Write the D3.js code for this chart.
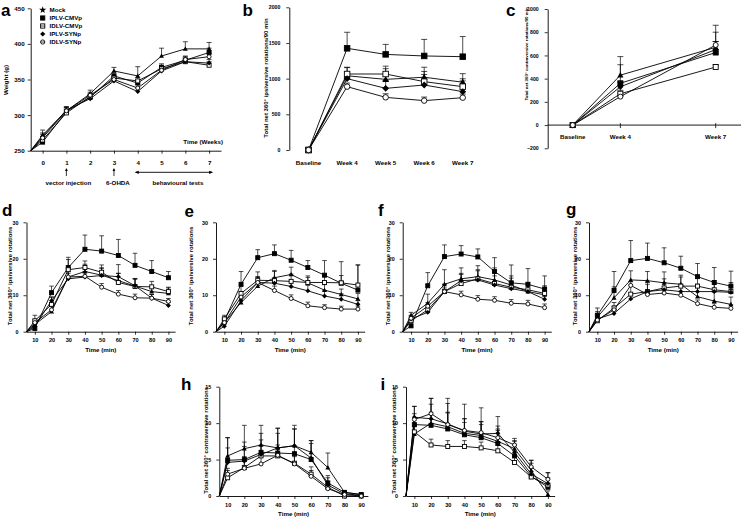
<!DOCTYPE html>
<html><head><meta charset="utf-8">
<script src="https://cdn.jsdelivr.net/npm/d3@7"></script>
<style>
body{margin:0;background:#fff}
svg{display:block}
text{font-family:"Liberation Sans",Arial,sans-serif;font-weight:bold;fill:#000}
</style>
</head><body><svg id="fig" width="741" height="519"></svg>
<script>
// ---------- shared ----------
const seriesNames = ["Mock", "IPLV-CMVp", "IDLV-CMVp", "IPLV-SYNp", "IDLV-SYNp"];
const seriesSymbols = ["tri", "fsq", "osq", "fdia", "ocir"];
const weeks = [0, 1, 2, 3, 4, 5, 6, 7];
const weekTicks = [0, 1, 2, 3, 4, 5, 6, 7];
const weightTicks = [250, 300, 350, 400, 450];
const bCats = ["Baseline", "Week 4", "Week 5", "Week 6", "Week 7"];
const bTicks = [0, 500, 1000, 1500, 2000];
const cCats = ["Baseline", "Week 4", "Week 7"];
const cPos = [0, 1, 3];
const cTicks = [-200, 0, 200, 400, 600, 800, 1000];
const minutes = [10, 20, 30, 40, 50, 60, 70, 80, 90];
const ipsiTicks = [0, 10, 20, 30];
const contraTicks = [0, 5, 10, 15];

// ---------- panel a: body weight (g) ----------
const aMock    = [272, 306, 330, 362, 355, 383, 393, 393];
const aIPLVCMV = [262, 305, 325, 355, 345, 367, 377, 388];
const aIDLVCMV = [265, 303, 326, 352, 348, 365, 375, 370];
const aIPLVSYN = [270, 307, 323, 348, 333, 362, 375, 373];
const aIDLVSYN = [268, 306, 328, 350, 338, 363, 378, 382];
const aErrMock    = [7, 5, 5, 5, 13, 11, 10, 9];
const aErrIPLVCMV = [5, 5, 4, 4, 5, 5, 5, 6];
const aErrIDLVCMV = [5, 5, 4, 4, 5, 5, 5, 5];
const aErrIPLVSYN = [5, 5, 4, 4, 5, 5, 5, 5];
const aErrIDLVSYN = [5, 5, 4, 4, 5, 5, 5, 5];

// ---------- panel b: ipsiversive /90 min ----------
const bMock    = [0, 1040, 990, 1020, 950];
const bIPLVCMV = [0, 1425, 1340, 1318, 1308];
const bIDLVCMV = [0, 1065, 1065, 958, 888];
const bIPLVSYN = [0, 1000, 864, 911, 818];
const bIDLVSYN = [0, 888, 738, 692, 733];
const bErrMock    = [0, 120, 150, 140, 120];
const bErrIPLVCMV = [0, 225, 140, 232, 282];
const bErrIDLVCMV = [0, 90, 110, 100, 80];
const bErrIPLVSYN = [0, 80, 110, 190, 180];
const bErrIDLVSYN = [0, 50, 50, 50, 50];

// ---------- panel c: contraversive /90 min ----------
const cMock    = [0, 430, 670];
const cIPLVCMV = [0, 360, 625];
const cIDLVCMV = [0, 270, 500];
const cIPLVSYN = [0, 330, 650];
const cIDLVSYN = [0, 245, 690];
const cErrMock    = [0, 160, 190];
const cErrIPLVCMV = [0, 160, 175];
const cErrIDLVCMV = [0, 30, 20];
const cErrIPLVSYN = [0, 40, 70];
const cErrIDLVSYN = [0, 30, 30];

// ---------- panel d ----------
const dMock    = [2.0, 5.5, 15.0, 16.5, 15.5, 14.0, 12.5, 11.0, 10.5];
const dIPLVCMV = [0.9, 10.7, 17.6, 22.6, 22.1, 20.9, 18.2, 16.5, 14.8];
const dIDLVCMV = [3.0, 7.5, 17.0, 17.6, 16.3, 13.5, 12.4, 12.3, 11.0];
const dIPLVSYN = [1.5, 8.5, 14.5, 15.0, 15.4, 15.1, 12.6, 9.2, 7.2];
const dIDLVSYN = [2.5, 6.0, 15.0, 15.2, 12.2, 10.3, 9.3, 9.2, 8.3];
const dErrMock    = [1.0, 1.5, 2.5, 2.0, 2.0, 2.0, 2.0, 1.5, 1.5];
const dErrIPLVCMV = [1.5, 1.8, 2.8, 3.9, 4.2, 4.4, 3.3, 3.0, 1.7];
const dErrIDLVCMV = [1.5, 2.0, 2.8, 1.8, 2.0, 2.5, 2.0, 1.5, 1.2];
const dErrIPLVSYN = [0.8, 1.0, 1.5, 1.5, 2.0, 3.3, 2.0, 1.0, 0.8];
const dErrIDLVSYN = [0.8, 1.0, 1.5, 1.2, 1.0, 1.0, 1.0, 1.0, 0.8];

// ---------- panel e ----------
const eMock    = [2.5, 8.0, 12.5, 14.8, 15.7, 13.4, 11.4, 10.2, 9.0];
const eIPLVCMV = [3.0, 13.0, 20.3, 21.4, 19.6, 17.6, 15.5, 13.3, 11.4];
const eIDLVCMV = [3.5, 10.5, 14.1, 14.0, 13.8, 13.5, 13.5, 13.4, 12.8];
const eIPLVSYN = [1.5, 8.5, 13.5, 13.3, 12.4, 11.2, 9.8, 8.9, 7.5];
const eIDLVSYN = [2.5, 9.5, 13.5, 11.3, 9.1, 7.1, 6.6, 6.2, 6.2];
const eErrMock    = [0.8, 1.5, 2.5, 2.0, 2.0, 1.5, 1.5, 1.5, 1.5];
const eErrIPLVCMV = [1.0, 3.5, 2.2, 2.4, 2.7, 1.9, 4.0, 5.9, 6.9];
const eErrIDLVCMV = [1.0, 2.0, 2.3, 2.5, 2.0, 1.8, 2.0, 2.0, 5.5];
const eErrIPLVSYN = [0.8, 1.2, 1.5, 1.5, 1.5, 1.5, 1.5, 1.5, 1.0];
const eErrIDLVSYN = [0.8, 1.5, 1.5, 1.2, 1.0, 1.0, 0.8, 0.8, 0.8];

// ---------- panel f ----------
const fMock    = [4.5, 7.8, 13.0, 14.5, 15.1, 14.2, 12.8, 11.0, 10.1];
const fIPLVCMV = [1.6, 12.6, 20.6, 21.3, 20.5, 16.5, 13.4, 13.0, 11.7];
const fIDLVCMV = [3.0, 6.0, 11.0, 13.2, 14.5, 13.2, 12.2, 11.5, 10.5];
const fIPLVSYN = [3.5, 5.3, 11.0, 14.0, 14.2, 12.8, 11.8, 11.0, 8.9];
const fIDLVSYN = [3.7, 7.0, 11.0, 10.1, 8.9, 8.6, 7.8, 7.6, 6.6];
const fErrMock    = [0.8, 2.5, 4.0, 3.0, 3.0, 3.3, 2.5, 2.0, 2.5];
const fErrIPLVCMV = [1.0, 3.6, 3.2, 2.3, 2.2, 3.8, 4.9, 4.3, 3.6];
const fErrIDLVCMV = [0.8, 1.5, 2.0, 2.5, 2.5, 3.0, 2.5, 2.0, 1.5];
const fErrIPLVSYN = [0.8, 1.5, 2.0, 2.0, 2.5, 2.5, 2.0, 1.5, 1.3];
const fErrIDLVSYN = [0.8, 1.0, 1.0, 1.0, 1.0, 1.0, 1.0, 1.0, 1.0];

// ---------- panel g ----------
const gMock    = [4.0, 9.3, 14.2, 14.0, 13.4, 13.0, 9.6, 8.4, 7.5];
const gIPLVCMV = [4.5, 11.3, 19.5, 20.1, 18.9, 17.4, 15.1, 13.5, 12.5];
const gIDLVCMV = [3.0, 6.5, 10.3, 11.0, 12.0, 12.5, 12.5, 11.5, 11.0];
const gIPLVSYN = [3.5, 5.0, 9.0, 11.0, 11.5, 11.0, 11.0, 11.0, 10.8];
const gIDLVSYN = [3.2, 6.0, 12.7, 10.2, 10.6, 10.0, 7.7, 6.7, 6.4];
const gErrMock    = [1.5, 3.0, 2.5, 2.5, 3.0, 2.5, 3.0, 2.5, 2.0];
const gErrIPLVCMV = [2.0, 5.2, 5.5, 4.2, 4.1, 3.3, 3.6, 4.1, 4.1];
const gErrIDLVCMV = [1.0, 1.5, 2.5, 2.5, 2.5, 2.5, 2.5, 2.5, 2.5];
const gErrIPLVSYN = [0.8, 1.0, 1.5, 2.0, 2.0, 2.0, 2.0, 2.0, 1.5];
const gErrIDLVSYN = [0.8, 1.0, 1.0, 1.0, 1.0, 1.0, 1.0, 1.0, 1.0];

// ---------- panel h ----------
const hMock    = [5.5, 6.5, 7.0, 6.6, 6.9, 6.0, 3.9, 0.5, 0.2];
const hIPLVCMV = [4.9, 5.0, 6.0, 5.9, 5.8, 5.0, 1.8, 0.5, 0.2];
const hIDLVCMV = [2.5, 3.9, 5.5, 5.5, 4.5, 3.0, 1.2, 0.0, 0.0];
const hIPLVSYN = [4.6, 4.8, 5.7, 6.6, 6.9, 5.2, 1.5, 0.3, 0.1];
const hIDLVSYN = [3.0, 3.8, 4.4, 5.6, 4.4, 2.7, 1.0, 0.2, 0.0];
const hErrMock    = [2.5, 3.2, 2.7, 2.7, 2.8, 1.6, 2.0, 0.2, 0.1];
const hErrIPLVCMV = [3.1, 2.4, 2.6, 3.4, 3.4, 2.6, 1.0, 0.2, 0.1];
const hErrIDLVCMV = [1.0, 1.5, 1.5, 1.5, 1.5, 1.0, 0.5, 0.2, 0.1];
const hErrIPLVSYN = [2.0, 2.0, 2.0, 2.0, 2.3, 2.0, 1.0, 0.2, 0.1];
const hErrIDLVSYN = [0.8, 1.0, 1.0, 1.0, 1.0, 0.8, 0.5, 0.2, 0.1];

// ---------- panel i ----------
const iMock    = [8.5, 10.0, 9.5, 8.6, 8.3, 7.5, 6.5, 3.5, 0.2];
const iIPLVCMV = [9.8, 9.7, 9.2, 8.4, 8.0, 7.2, 5.5, 2.7, 1.2];
const iIDLVCMV = [8.8, 7.0, 6.8, 6.8, 6.6, 6.2, 4.6, 2.6, 1.5];
const iIPLVSYN = [10.8, 10.6, 9.9, 8.9, 8.5, 8.6, 6.0, 3.0, 1.7];
const iIDLVSYN = [10.5, 11.3, 9.8, 9.0, 8.7, 8.0, 7.0, 4.0, 2.3];
const iErrMock    = [1.0, 1.5, 2.0, 1.5, 1.5, 1.5, 1.0, 1.0, 0.5];
const iErrIPLVCMV = [1.5, 2.9, 3.5, 2.2, 2.2, 2.0, 1.6, 1.2, 1.3];
const iErrIDLVCMV = [0.8, 0.8, 0.8, 0.8, 0.8, 0.8, 0.8, 0.8, 0.8];
const iErrIPLVSYN = [1.5, 2.8, 3.5, 3.7, 3.6, 2.3, 1.6, 1.9, 1.5];
const iErrIDLVSYN = [1.8, 2.1, 1.6, 1.6, 1.5, 1.6, 0.9, 0.9, 0.9];

// ---------- helpers ----------
const svg = d3.select("#fig");
const FS = 6.2;
const fmt = d3.format("d");

function pack(vals, errs) {
  return vals.map((v, k) => ({ name: seriesNames[k], sym: seriesSymbols[k], vals: v, err: errs[k] }));
}

function marker(g, sym, cx, cy, s) {
  const sw = 0.9;
  if (sym === "fsq" || sym === "osq") {
    g.append("rect").attr("x", cx - s / 2).attr("y", cy - s / 2).attr("width", s).attr("height", s)
      .attr("fill", sym === "fsq" ? "#000" : "#fff").attr("stroke", "#000").attr("stroke-width", sw);
  } else if (sym === "ocir") {
    g.append("circle").attr("cx", cx).attr("cy", cy).attr("r", s / 2)
      .attr("fill", "#fff").attr("stroke", "#000").attr("stroke-width", sw);
  } else if (sym === "tri") {
    const h = s * 0.62;
    g.append("path").attr("d", `M${cx},${cy - h}L${cx + h},${cy + h * 0.75}L${cx - h},${cy + h * 0.75}Z`)
      .attr("fill", "#000");
  } else if (sym === "fdia") {
    const h = s * 0.62;
    g.append("path").attr("d", `M${cx},${cy - h}L${cx + h},${cy}L${cx},${cy + h}L${cx - h},${cy}Z`)
      .attr("fill", "#000");
  } else if (sym === "star") {
    g.append("path").attr("transform", `translate(${cx},${cy})`)
      .attr("d", d3.symbol(d3.symbolStar, s * s * 0.9)()).attr("fill", "#000");
  }
}

function drawSeries(g, xf, y, positions, list, opt) {
  const lg = g.append("g"), eg = g.append("g"), mg = g.append("g");
  list.forEach(s => {
    const pts = positions.map((p, k) => [xf(p), y(s.vals[k])]);
    if (opt.origin) pts.unshift(opt.origin);
    lg.append("path").attr("d", d3.line()(pts)).attr("fill", "none")
      .attr("stroke", "#000").attr("stroke-width", 0.9);
  });
  list.forEach(s => positions.forEach((p, k) => {
    if (!s.err[k]) return;
    const X = xf(p), y0 = y(s.vals[k]), y1 = y(s.vals[k] + s.err[k]);
    eg.append("line").attr("x1", X).attr("x2", X).attr("y1", y0).attr("y2", y1)
      .attr("stroke", "#000").attr("stroke-width", 0.7);
    eg.append("line").attr("x1", X - opt.cap).attr("x2", X + opt.cap).attr("y1", y1).attr("y2", y1)
      .attr("stroke", "#000").attr("stroke-width", 0.7);
  }));
  list.forEach(s => positions.forEach((p, k) => marker(mg, s.sym, xf(p), y(s.vals[k]), opt.size)));
}

function styleAxis(ax, fs) {
  ax.selectAll("text").style("font-size", (fs || FS) + "px").style("font-weight", "bold");
  ax.select(".domain").attr("stroke-width", 0.9);
  ax.selectAll(".tick line").attr("stroke-width", 0.8);
}

function yTitle(txt, x, yc, size) {
  svg.append("text").attr("transform", `translate(${x},${yc}) rotate(-90)`)
    .attr("text-anchor", "middle").style("font-size", (size || FS) + "px").text(txt);
}
function letter(ch, x, y) {
  svg.append("text").attr("x", x).attr("y", y).style("font-size", "17px").text(ch);
}

// ---------- panel a ----------
(function () {
  const x = d3.scaleLinear([-0.5, 7.5], [30.7, 221]);
  const y = d3.scaleLinear([250, 450], [150.7, 8.3]);
  const g = svg.append("g");
  styleAxis(g.append("g").attr("transform", `translate(${x.range()[0]},0)`)
    .call(d3.axisLeft(y).tickValues(weightTicks).tickFormat(fmt).tickSize(3).tickSizeOuter(0).tickPadding(3)));
  styleAxis(g.append("g").attr("transform", `translate(0,${y.range()[0]})`)
    .call(d3.axisBottom(x).tickValues(weekTicks).tickFormat(fmt).tickSize(3).tickSizeOuter(0).tickPadding(6.5)));
  const list = pack([aMock, aIPLVCMV, aIDLVCMV, aIPLVSYN, aIDLVSYN],
    [aErrMock, aErrIPLVCMV, aErrIDLVCMV, aErrIPLVSYN, aErrIDLVSYN]);
  drawSeries(g, x, y, weeks, list, { origin: [x.range()[0], y.range()[0]], size: 4, cap: 2.5 });
  yTitle("Weight (g)", 8, 80);
  g.append("text").attr("x", 223).attr("y", 144).attr("text-anchor", "end").style("font-size", FS + "px").text("Time (Weeks)");
  // legend
  seriesNames.forEach((n, k) => {
    const ly = 10 + k * 8;
    marker(g, k === 0 ? "star" : seriesSymbols[k], 42.7, ly, 4.2);
    if (k === 2 || k === 4) g.append("line").attr("x1", 40.6).attr("x2", 44.8).attr("y1", ly).attr("y2", ly).attr("stroke", "#000").attr("stroke-width", 0.7);
    g.append("text").attr("x", 49.5).attr("y", ly + 2.2).style("font-size", FS + "px").text(n);
  });
  // annotations
  [1, 3].forEach(w => {
    const X = x(w);
    g.append("line").attr("x1", X).attr("x2", X).attr("y1", 176).attr("y2", 169.5).attr("stroke", "#000").attr("stroke-width", 0.8);
    g.append("path").attr("d", `M${X},168L${X + 1.4},171L${X - 1.4},171Z`).attr("fill", "#000");
  });
  const ax0 = x(4) - 2, ax1 = x(7) + 3, ay = 172.3;
  g.append("line").attr("x1", ax0).attr("x2", ax1).attr("y1", ay).attr("y2", ay).attr("stroke", "#000").attr("stroke-width", 0.9);
  g.append("path").attr("d", `M${ax0 - 1},${ay}L${ax0 + 3},${ay - 1.6}L${ax0 + 3},${ay + 1.6}Z`).attr("fill", "#000");
  g.append("path").attr("d", `M${ax1 + 1},${ay}L${ax1 - 3},${ay - 1.6}L${ax1 - 3},${ay + 1.6}Z`).attr("fill", "#000");
  g.append("text").attr("x", x(1) + 2).attr("y", 185).attr("text-anchor", "middle").style("font-size", FS + "px").text("vector injection");
  g.append("text").attr("x", x(3) + 4).attr("y", 185).attr("text-anchor", "middle").style("font-size", FS + "px").text("6-OHDA");
  g.append("text").attr("x", (ax0 + ax1) / 2 + 4).attr("y", 185).attr("text-anchor", "middle").style("font-size", FS + "px").text("behavioural tests");
  letter("a", 1, 16);
})();

// ---------- panel b ----------
(function () {
  const x = d3.scalePoint(bCats, [289.3, 482]).padding(0.5);
  const y = d3.scaleLinear([0, 2000], [150, 7.3]);
  const g = svg.append("g");
  styleAxis(g.append("g").attr("transform", `translate(289.3,0)`)
    .call(d3.axisLeft(y).tickValues(bTicks).tickFormat(fmt).tickSize(3).tickSizeOuter(0).tickPadding(6)), 5.2);
  bCats.forEach(c => g.append("text").attr("x", x(c)).attr("y", 165).attr("text-anchor", "middle")
    .style("font-size", FS + "px").text(c));
  const list = pack([bMock, bIPLVCMV, bIDLVCMV, bIPLVSYN, bIDLVSYN],
    [bErrMock, bErrIPLVCMV, bErrIDLVCMV, bErrIPLVSYN, bErrIDLVSYN]);
  drawSeries(g, c => x(c), y, bCats, list, { size: 5.5, cap: 3 });
  yTitle("Total net 360° ipsiversive rotations/90 min", 268, 78, 6);
  letter("b", 242.5, 16);
})();

// ---------- panel c ----------
(function () {
  const x = d3.scaleLinear([0, 3], [572.7, 715.7]);
  const y = d3.scaleLinear([-200, 1000], [148.3, 9]);
  const g = svg.append("g");
  styleAxis(g.append("g").attr("transform", `translate(547.7,0)`)
    .call(d3.axisLeft(y).tickValues(cTicks).tickFormat(fmt).tickSize(3).tickSizeOuter(0).tickPadding(6)), 5.2);
  g.append("line").attr("x1", 547.7).attr("x2", 741).attr("y1", y(0)).attr("y2", y(0)).attr("stroke", "#000").attr("stroke-width", 0.9);
  cPos.forEach((p, k) => {
    g.append("line").attr("x1", x(p)).attr("x2", x(p)).attr("y1", y(0) - 2).attr("y2", y(0) + 3).attr("stroke", "#000").attr("stroke-width", 0.8);
    g.append("text").attr("x", x(p)).attr("y", 138.5).attr("text-anchor", "middle").style("font-size", FS + "px").text(cCats[k]);
  });
  const list = pack([cMock, cIPLVCMV, cIDLVCMV, cIPLVSYN, cIDLVSYN],
    [cErrMock, cErrIPLVCMV, cErrIDLVCMV, cErrIPLVSYN, cErrIDLVSYN]);
  drawSeries(g, x, y, cPos, list, { size: 5, cap: 3 });
  yTitle("Total net 360° contraversive rotations/90 min", 528, 54, 4.4);
  letter("c", 506, 16);
})();

// ---------- time-course panels ----------
function timePanel(cfg) {
  const x = d3.scaleLinear([5, 94], [cfg.xL, cfg.xL + 148.6]);
  const y = d3.scaleLinear([0, cfg.ticks[cfg.ticks.length - 1]], [cfg.yB, cfg.yT]);
  const g = svg.append("g");
  styleAxis(g.append("g").attr("transform", `translate(${cfg.xL},0)`)
    .call(d3.axisLeft(y).tickValues(cfg.ticks).tickFormat(fmt).tickSize(3).tickSizeOuter(0).tickPadding(5)), 5.4);
  styleAxis(g.append("g").attr("transform", `translate(0,${cfg.yB})`)
    .call(d3.axisBottom(x).tickValues(minutes).tickFormat(fmt).tickSize(3).tickSizeOuter(0).tickPadding(cfg.pad)), 5.6);
  drawSeries(g, x, y, minutes, cfg.list, { origin: [x(x.domain()[0]), y(0)], size: 4, cap: 2.3 });
  g.append("text").attr("x", (x.range()[0] + x.range()[1]) / 2).attr("y", cfg.yB + cfg.tOff)
    .attr("text-anchor", "middle").style("font-size", FS + "px").text("Time (min)");
  yTitle(cfg.title, cfg.tx, (cfg.yT + cfg.yB) / 2 - 1, 6);
  letter(cfg.letter, cfg.lx, cfg.ly);
}

const ipsi = "Total net 360° ipsiversive rotations";
const contra = "Total net 360° contraversive rotations";

timePanel({ letter: "d", lx: 2, ly: 215.5, xL: 26.5, yT: 222.3, yB: 331.7, ticks: ipsiTicks, pad: 3, tOff: 20, title: ipsi, tx: 11.5,
  list: pack([dMock, dIPLVCMV, dIDLVCMV, dIPLVSYN, dIDLVSYN], [dErrMock, dErrIPLVCMV, dErrIDLVCMV, dErrIPLVSYN, dErrIDLVSYN]) });
timePanel({ letter: "e", lx: 184.5, ly: 216.5, xL: 216, yT: 222.3, yB: 331.7, ticks: ipsiTicks, pad: 3, tOff: 20, title: ipsi, tx: 193,
  list: pack([eMock, eIPLVCMV, eIDLVCMV, eIPLVSYN, eIDLVSYN], [eErrMock, eErrIPLVCMV, eErrIDLVCMV, eErrIPLVSYN, eErrIDLVSYN]) });
timePanel({ letter: "f", lx: 378, ly: 215.5, xL: 402.7, yT: 222.3, yB: 331.7, ticks: ipsiTicks, pad: 3, tOff: 20, title: ipsi, tx: 390,
  list: pack([fMock, fIPLVCMV, fIDLVCMV, fIPLVSYN, fIDLVSYN], [fErrMock, fErrIPLVCMV, fErrIDLVCMV, fErrIPLVSYN, fErrIDLVSYN]) });
timePanel({ letter: "g", lx: 566, ly: 214.5, xL: 589, yT: 222.3, yB: 331.7, ticks: ipsiTicks, pad: 3, tOff: 20, title: ipsi, tx: 576.5,
  list: pack([gMock, gIPLVCMV, gIDLVCMV, gIPLVSYN, gIDLVSYN], [gErrMock, gErrIPLVCMV, gErrIDLVCMV, gErrIPLVSYN, gErrIDLVSYN]) });
timePanel({ letter: "h", lx: 181, ly: 390, xL: 219.3, yT: 386.7, yB: 496, ticks: contraTicks, pad: 4.5, tOff: 19.5, title: contra, tx: 208,
  list: pack([hMock, hIPLVCMV, hIDLVCMV, hIPLVSYN, hIDLVSYN], [hErrMock, hErrIPLVCMV, hErrIDLVCMV, hErrIPLVSYN, hErrIDLVSYN]) });
timePanel({ letter: "i", lx: 380.5, ly: 390, xL: 406, yT: 386.7, yB: 496, ticks: contraTicks, pad: 4.5, tOff: 19.5, title: contra, tx: 395.5,
  list: pack([iMock, iIPLVCMV, iIDLVCMV, iIPLVSYN, iIDLVSYN], [iErrMock, iErrIPLVCMV, iErrIDLVCMV, iErrIPLVSYN, iErrIDLVSYN]) });
</script>
</body></html>
